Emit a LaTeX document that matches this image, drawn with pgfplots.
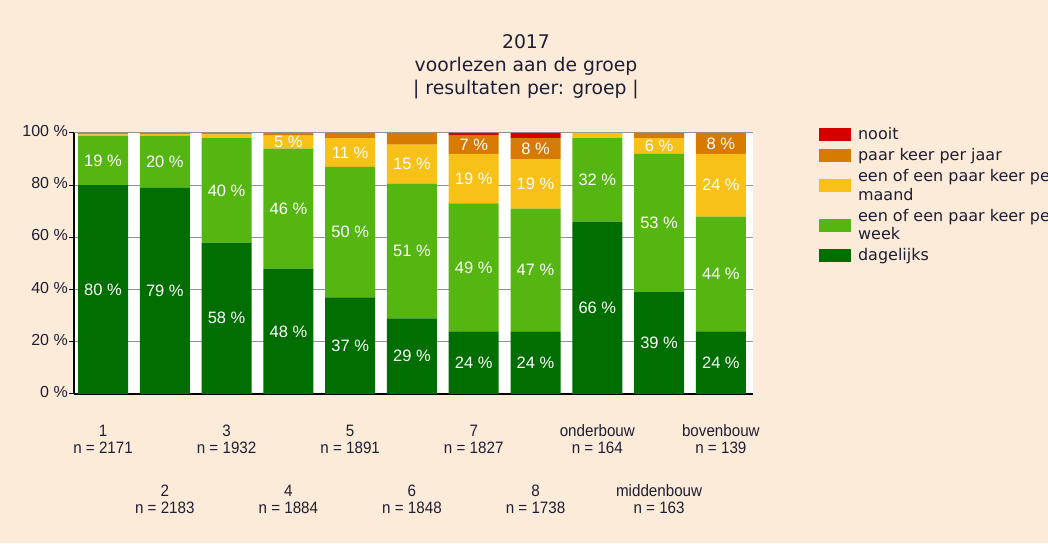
\documentclass[border=0pt]{standalone}
\usepackage{fontspec}
\setmainfont{Liberation Sans}
\newfontfamily\verd{DejaVu Sans}
\newfontfamily\narrow[FakeStretch=0.92]{Liberation Sans}
\usepackage{pgfplots}
\usepackage{pgfplotstable}
\pgfplotsset{compat=1.18}
\definecolor{bg}{HTML}{FDEBDA}
\definecolor{txt}{HTML}{1E1E32}
\definecolor{cdag}{HTML}{006E00}
\definecolor{cweek}{HTML}{55B511}
\definecolor{cmaand}{HTML}{F7C118}
\definecolor{cjaar}{HTML}{D77A00}
\definecolor{cnooit}{HTML}{D40000}

\pgfplotstableread{
x dag week maand jaar nooit
0 80 19 0.5 0.5 0
1 79 20 0.6 0.4 0
2 58 40 1.5 0.5 0
3 48 46 5 1 0
4 37 50 11 2 0
5 29 51.5 15 4.5 0
6 24 49 19 7 1
7 24 47 19 8 2
8 66 32 2 0 0
9 39 53 6 2 0
10 24 44 24 8 0
}\data

% label positions (segment centres) and printed values
\pgfplotstableread{
x y lab
0 40 80
0 89.5 19
1 39.5 79
1 89 20
2 29 58
2 78 40
3 24 48
3 71 46
3 96.5 5
4 18.5 37
4 62 50
4 92.5 11
5 14.5 29
5 54.75 51
5 88 15
6 12 24
6 48.5 49
6 82.5 19
6 95.5 7
7 12 24
7 47.5 47
7 80.5 19
7 94 8
8 33 66
8 82 32
9 19.5 39
9 65.5 53
9 95 6
10 12 24
10 46 44
10 80 24
10 96 8
}\labels

\pgfplotsset{
  frame/.style={at={(74pt,149pt)}, anchor=south west,
    scale only axis, width=679pt, height=261pt,
    xmin=-0.47, xmax=10.52, ymin=0, ymax=100},
}

\begin{document}
\begin{tikzpicture}[x=1pt,y=1pt]
\useasboundingbox (0,0) rectangle (1048,543);
\clip (0,0) rectangle (1048,543);
\fill[bg] (0,0) rectangle (1048,543);
\node[font=\verd\fontsize{18.8}{23}\selectfont, align=center, text=txt] at (526,476.5) {2017\\voorlezen aan de groep\\| resultaten per: groep |};
\begin{axis}[
  frame,
  ybar stacked, bar width=50pt,
  axis background/.style={fill=white},
  axis x line*=bottom, axis y line*=left,
  axis line style={black, line width=1.3pt},
  ymajorgrids, grid style={gray!85, line width=1pt},
  ytick={0,20,40,60,80,100},
  yticklabels={0 \%,20 \%,40 \%,60 \%,80 \%,100 \%},
  tick align=outside, major tick length=5pt,
  ytick style={black, line width=1pt},
  yticklabel style={font=\fontsize{16}{18}\selectfont, inner sep=1pt, text=txt},
  xtick={0,2,4,6,8,10},
  xticklabels={{1\\n = 2171},{3\\n = 1932},{5\\n = 1891},{7\\n = 1827},{onderbouw\\n = 164},{bovenbouw\\n = 139}},
  extra x ticks={1,3,5,7,9},
  extra x tick labels={{2\\n = 2183},{4\\n = 1884},{6\\n = 1848},{8\\n = 1738},{middenbouw\\n = 163}},
  extra x tick style={xticklabel style={yshift=-60pt}},
  xtick style={draw=none},
  typeset ticklabels with strut,
  xticklabel style={font=\narrow\fontsize{16.5}{17}\selectfont, align=center, anchor=north, yshift=-22pt, text=txt},
  legend style={at={(1.097,1.023)}, anchor=north west, draw=none, fill=none,
    font=\verd\fontsize{16}{18.5}\selectfont, text=txt, row sep=7.5pt, inner sep=0pt,
    nodes={inner sep=0pt}, cells={align=left}},
  legend cell align=left,
  reverse legend,
  legend image code/.code={\fill[#1] (0pt,-6.5pt) rectangle (32pt,6.5pt); \path (39pt,0pt);},
]
\addplot[fill=cdag, draw=none] table[x=x,y=dag]{\data};
\addlegendentry{dagelijks}
\addplot[fill=cweek, draw=none] table[x=x,y=week]{\data};
\addlegendentry{een of een paar keer per\\week}
\addplot[fill=cmaand, draw=none] table[x=x,y=maand]{\data};
\addlegendentry{een of een paar keer per\\maand}
\addplot[fill=cjaar, draw=none] table[x=x,y=jaar]{\data};
\addlegendentry{paar keer per jaar}
\addplot[fill=cnooit, draw=none] table[x=x,y=nooit]{\data};
\addlegendentry{nooit}
\end{axis}
\begin{axis}[frame, hide axis]
\addplot[draw=none, mark=none, point meta=explicit symbolic,
  nodes near coords={\pgfplotspointmeta\ \%},
  every node near coord/.append style={text=white, anchor=center, font=\fontsize{16.5}{18}\selectfont}]
  table[x=x, y=y, meta=lab]{\labels};
\end{axis}
\end{tikzpicture}
\end{document}
